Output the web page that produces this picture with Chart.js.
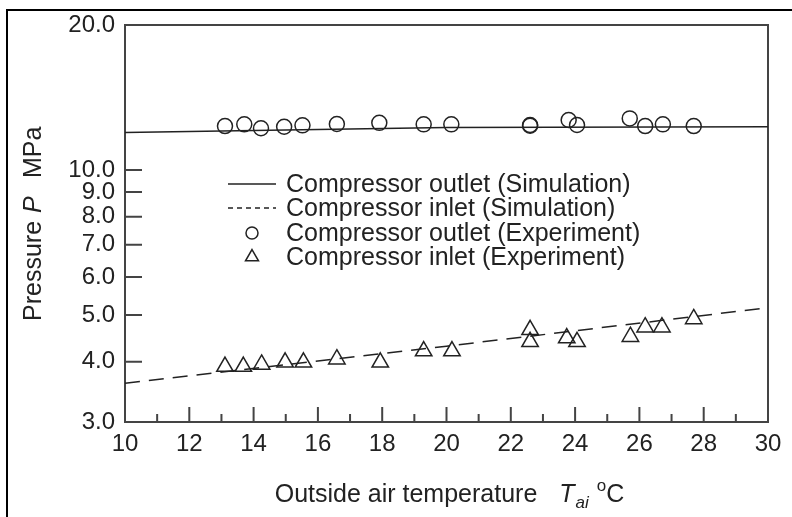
<!DOCTYPE html>
<html>
<head>
<meta charset="utf-8">
<script src="https://cdn.jsdelivr.net/npm/chart.js@4.4.0/dist/chart.umd.min.js"></script>
<style>
  html, body { margin: 0; padding: 0; background: #fff; }
  #wrap { position: relative; width: 792px; height: 517px; overflow: hidden; }
  #frame { position: absolute; left: 6px; top: 9px; width: 900px; height: 600px;
           border-top: 2px solid #000; border-left: 2px solid #000; pointer-events: none; }
</style>
</head>
<body>
<div id="wrap">
  <canvas id="chart"></canvas>
  <div id="frame"></div>
</div>
<script>
// outside air temperature (°C) / pressure (MPa)
const outletSimT = [10, 20, 30];
const outletSimP = [11.96, 12.25, 12.30];
const inletSimT = [10, 20, 30];
const inletSimP = [3.61, 4.31, 5.18];

const outletExpT = [13.11, 13.71, 14.23, 14.95, 15.52, 16.59, 17.91, 19.29, 20.15, 22.60, 22.60, 23.80, 24.06, 25.70, 26.18, 26.73, 27.69];
const outletExpP = [12.34, 12.44, 12.21, 12.30, 12.38, 12.46, 12.53, 12.44, 12.44, 12.40, 12.36, 12.70, 12.40, 12.80, 12.34, 12.44, 12.34];
const inletExpT = [13.11, 13.68, 14.25, 14.98, 15.55, 16.59, 17.94, 19.29, 20.17, 22.60, 22.60, 23.74, 24.06, 25.72, 26.18, 26.70, 27.69];
const inletExpP = [3.91, 3.91, 3.95, 3.99, 3.99, 4.05, 3.99, 4.21, 4.21, 4.66, 4.40, 4.48, 4.40, 4.51, 4.72, 4.72, 4.91];

const yTicks = [3, 4, 5, 6, 7, 8, 9, 10, 20];
const xTicks = [10, 12, 14, 16, 18, 20, 22, 24, 26, 28, 30];

const legendLabels = [
  "Compressor outlet (Simulation)",
  "Compressor inlet (Simulation)",
  "Compressor outlet (Experiment)",
  "Compressor inlet (Experiment)"
];

const FONT = '"Liberation Sans", Arial, Helvetica, sans-serif';
const INK = "#222";
Chart.defaults.font.family = FONT;
Chart.defaults.color = INK;

function pts(xs, ys) {
  return xs.map((x, i) => ({ x: x, y: ys[i] }));
}

const framePlugin = {
  id: "frame",
  beforeDatasetsDraw(chart) {
    const { ctx, chartArea: a, scales: { x, y } } = chart;
    ctx.save();
    ctx.strokeStyle = "#444";
    ctx.lineWidth = 2;
    ctx.strokeRect(a.left, a.top, a.right - a.left, a.bottom - a.top);
    ctx.beginPath();
    y.ticks.forEach(t => {
      const py = y.getPixelForValue(t.value);
      ctx.moveTo(a.left, py);
      ctx.lineTo(a.left + 17, py);
    });
    for (let v = x.min; v <= x.max; v++) {
      const px = x.getPixelForValue(v);
      const len = v % 2 === 0 ? 15 : 8;
      ctx.moveTo(px, a.bottom);
      ctx.lineTo(px, a.bottom - len);
    }
    ctx.stroke();
    ctx.restore();
  },
  afterDraw(chart) {
    const { ctx, chartArea: a } = chart;
    const ds = chart.data.datasets;
    ctx.save();
    ctx.strokeStyle = INK;

    // legend inside the plot
    const lx = a.left + 103, tx = a.left + 161;
    const rows = [184, 208, 233, 257];
    legendLabels.forEach((lab, i) => {
      const d = ds[i];
      const ry = rows[i];
      ctx.lineWidth = 1.5;
      if (d.showLine !== false) {
        ctx.setLineDash(i === 1 ? [5, 4] : []);
        ctx.beginPath();
        ctx.moveTo(lx, ry);
        ctx.lineTo(lx + 48, ry);
        ctx.stroke();
        ctx.setLineDash([]);
      } else {
        ctx.fillStyle = "rgba(0,0,0,0)";
        Chart.helpers.drawPoint(ctx, {
          pointStyle: d.pointStyle,
          radius: d.pointStyle === "triangle" ? 7.5 : 6,
          rotation: 0,
          borderWidth: 1.5
        }, lx + 24, ry);
      }
      ctx.fillStyle = INK;
      ctx.font = "25px " + FONT;
      ctx.textBaseline = "middle";
      ctx.fillText(lab, tx, ry + 1);
    });

    // x axis title
    ctx.fillStyle = INK;
    ctx.textBaseline = "alphabetic";
    const big = "25px " + FONT, bigI = "italic 25px " + FONT, small = "17px " + FONT, smallI = "italic 17px " + FONT;
    const parts = [
      { t: "Outside air temperature", f: big, dy: 0, gap: 22 },
      { t: "T", f: bigI, dy: 0, gap: 1 },
      { t: "ai", f: smallI, dy: 6, gap: 8 },
      { t: "o", f: small, dy: -11, gap: 0 },
      { t: "C", f: big, dy: 0, gap: 0 }
    ];
    let total = 0;
    parts.forEach(p => { ctx.font = p.f; p.w = ctx.measureText(p.t).width; total += p.w + p.gap; });
    let cx = (a.left + a.right) / 2 + 3 - total / 2;
    parts.forEach(p => {
      ctx.font = p.f;
      ctx.fillText(p.t, cx, 502 + p.dy);
      cx += p.w + p.gap;
    });

    // y axis title
    ctx.translate(41, 321);
    ctx.rotate(-Math.PI / 2);
    ctx.font = big;
    ctx.fillText("Pressure", 0, 0);
    ctx.font = bigI;
    ctx.fillText("P", 108, 0);
    ctx.font = big;
    ctx.fillText("MPa", 143, 0);
    ctx.restore();
  }
};

new Chart(document.getElementById("chart"), {
  type: "scatter",
  data: {
    datasets: [
      {
        label: legendLabels[0],
        data: pts(outletSimT, outletSimP),
        showLine: true,
        borderColor: INK,
        borderWidth: 1.5,
        pointRadius: 0,
        fill: false
      },
      {
        label: legendLabels[1],
        data: pts(inletSimT, inletSimP),
        showLine: true,
        borderColor: INK,
        borderWidth: 1.5,
        borderDash: [15, 9],
        pointRadius: 0,
        fill: false
      },
      {
        label: legendLabels[2],
        data: pts(outletExpT, outletExpP),
        showLine: false,
        pointStyle: "circle",
        pointRadius: 7.5,
        pointBorderWidth: 1.5,
        borderColor: INK,
        backgroundColor: "rgba(0,0,0,0)"
      },
      {
        label: legendLabels[3],
        data: pts(inletExpT, inletExpP),
        showLine: false,
        pointStyle: "triangle",
        pointRadius: 9.5,
        pointBorderWidth: 1.5,
        borderColor: INK,
        backgroundColor: "rgba(0,0,0,0)"
      }
    ]
  },
  options: {
    responsive: true,
    maintainAspectRatio: false,
    animation: false,
    layout: { padding: { left: 0, top: 25, right: 24, bottom: 0 } },
    plugins: { legend: { display: false }, tooltip: { enabled: false } },
    scales: {
      x: {
        type: "linear",
        min: 10,
        max: 30,
        grid: { display: false, drawTicks: false },
        border: { display: false },
        afterBuildTicks: s => { s.ticks = xTicks.map(v => ({ value: v })); },
        afterFit: s => { s.height = 95; },
        ticks: { padding: 8, maxRotation: 0, font: { size: 24 }, color: INK }
      },
      y: {
        type: "logarithmic",
        min: 3,
        max: 20,
        grid: { display: false, drawTicks: false },
        border: { display: false },
        afterBuildTicks: s => { s.ticks = yTicks.map(v => ({ value: v })); },
        afterFit: s => { s.width = 125; },
        ticks: { padding: 10, font: { size: 24 }, color: INK, callback: v => Number(v).toFixed(1) }
      }
    }
  },
  plugins: [framePlugin]
});
</script>
</body>
</html>
